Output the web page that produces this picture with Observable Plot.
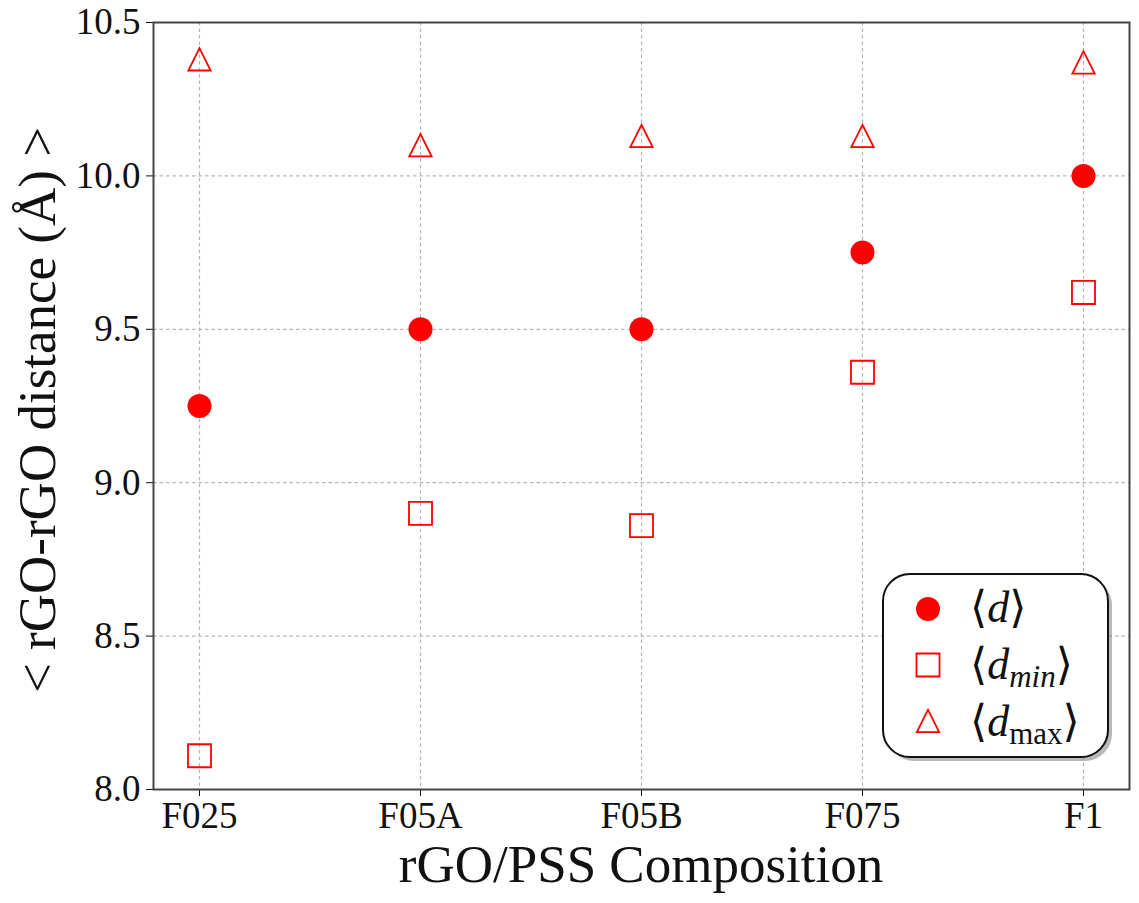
<!DOCTYPE html>
<html>
<head>
<meta charset="utf-8">
<script src="https://cdn.jsdelivr.net/npm/d3@7"></script>
<script src="https://cdn.jsdelivr.net/npm/@observablehq/plot@0.6"></script>
<style>
  html, body { margin: 0; padding: 0; background: white; }
  svg { display: block; }
</style>
</head>
<body>
<div id="chart"></div>
<script>
const categories = ["F025", "F05A", "F05B", "F075", "F1"];
const dMean = [9.25, 9.50, 9.50, 9.75, 10.00];
const dMin  = [8.11, 8.90, 8.86, 9.36, 9.62];
const dMax  = [10.38, 10.10, 10.13, 10.13, 10.37];
const yTicks = [8.0, 8.5, 9.0, 9.5, 10.0, 10.5];
const xLabel = "rGO/PSS Composition";
const yLabel = "< rGO-rGO distance (Å) >";

const rows = (vals) => categories.map((c, i) => ({cat: c, v: vals[i]}));

// matplotlib-like "^" triangle (width == height, centred on bbox)
const triUp = {
  draw(ctx, size) {
    const s = Math.sqrt(size) / 2;
    ctx.moveTo(0, -s);
    ctx.lineTo(-s, s);
    ctx.lineTo(s, s);
    ctx.closePath();
  }
};

const grid = {stroke: "#b5b5b5", strokeOpacity: 1, strokeWidth: 1.2, strokeDasharray: "3.5,3"};

const svg = Plot.plot({
  width: 1139,
  height: 903,
  marginLeft: 153,
  marginRight: 10,
  marginTop: 22,
  marginBottom: 114,
  style: {fontFamily: "'Liberation Serif', 'DejaVu Serif', serif", fontSize: "37px", color: "#111", background: "white"},
  x: {type: "point", domain: categories, padding: 0.2, label: null, tickSize: 7, tickPadding: 5},
  y: {domain: [8, 10.5], ticks: yTicks, tickFormat: d3.format(".1f"), label: null, tickSize: 7, tickPadding: 6},
  marks: [
    Plot.gridX(categories, grid),
    Plot.gridY(yTicks, grid),
    Plot.frame({stroke: "#444", strokeWidth: 2}),
    Plot.dot(rows(dMean), {x: "cat", y: "v", r: 12, fill: "red", stroke: "none", symbol: "circle"}),
    Plot.dot(rows(dMin), {x: "cat", y: "v", r: 13, fill: "none", stroke: "red", strokeWidth: 1.8, symbol: "square"}),
    Plot.dot(rows(dMax), {x: "cat", y: "v", r: 12.6, fill: "none", stroke: "red", strokeWidth: 1.8, symbol: triUp})
  ]
});

document.getElementById("chart").appendChild(svg);

const s = d3.select(svg);
const font = "'Liberation Serif', 'DejaVu Serif', serif";

// axis titles
s.append("text")
  .attr("x", 641).attr("y", 882)
  .attr("text-anchor", "middle")
  .attr("font-family", font).attr("font-size", 53).attr("fill", "#111")
  .text(xLabel);

s.append("text")
  .attr("transform", "translate(55,410) rotate(-90)")
  .attr("text-anchor", "middle")
  .attr("font-family", font).attr("font-size", 53).attr("fill", "#111")
  .text(yLabel);

// legend
const lg = s.append("g");
lg.append("rect").attr("x", 887).attr("y", 578).attr("width", 225).attr("height", 183)
  .attr("rx", 27).attr("fill", "#8a8a8a").attr("opacity", 0.6);
lg.append("rect").attr("x", 883).attr("y", 574).attr("width", 225).attr("height", 183)
  .attr("rx", 27).attr("fill", "white").attr("stroke", "#111").attr("stroke-width", 2);

const mx = 928;
lg.append("path").attr("transform", `translate(${mx},609)`)
  .attr("d", d3.symbol(d3.symbolCircle, Math.PI * 144)()).attr("fill", "red");
lg.append("path").attr("transform", `translate(${mx},665)`)
  .attr("d", d3.symbol(d3.symbolSquare, Math.PI * 169)()).attr("fill", "none").attr("stroke", "red").attr("stroke-width", 1.8);
lg.append("path").attr("transform", `translate(${mx},721)`)
  .attr("d", d3.symbol(triUp, Math.PI * 12.6 * 12.6)()).attr("fill", "none").attr("stroke", "red").attr("stroke-width", 1.8);

const entries = [
  {y: 622, sub: null, subItalic: false},
  {y: 679, sub: "min", subItalic: true},
  {y: 736, sub: "max", subItalic: false}
];
entries.forEach(e => {
  const t = lg.append("text").attr("x", 970).attr("y", e.y)
    .attr("text-anchor", "start")
    .attr("font-family", font).attr("font-size", 44).attr("fill", "#111");
  t.append("tspan").text("⟨");
  t.append("tspan").attr("font-style", "italic").text("d");
  if (e.sub) {
    t.append("tspan").attr("font-size", 31).attr("dy", 8)
      .attr("font-style", e.subItalic ? "italic" : "normal").text(e.sub);
    t.append("tspan").attr("dy", -8).text("⟩");
  } else {
    t.append("tspan").text("⟩");
  }
});
</script>
</body>
</html>
